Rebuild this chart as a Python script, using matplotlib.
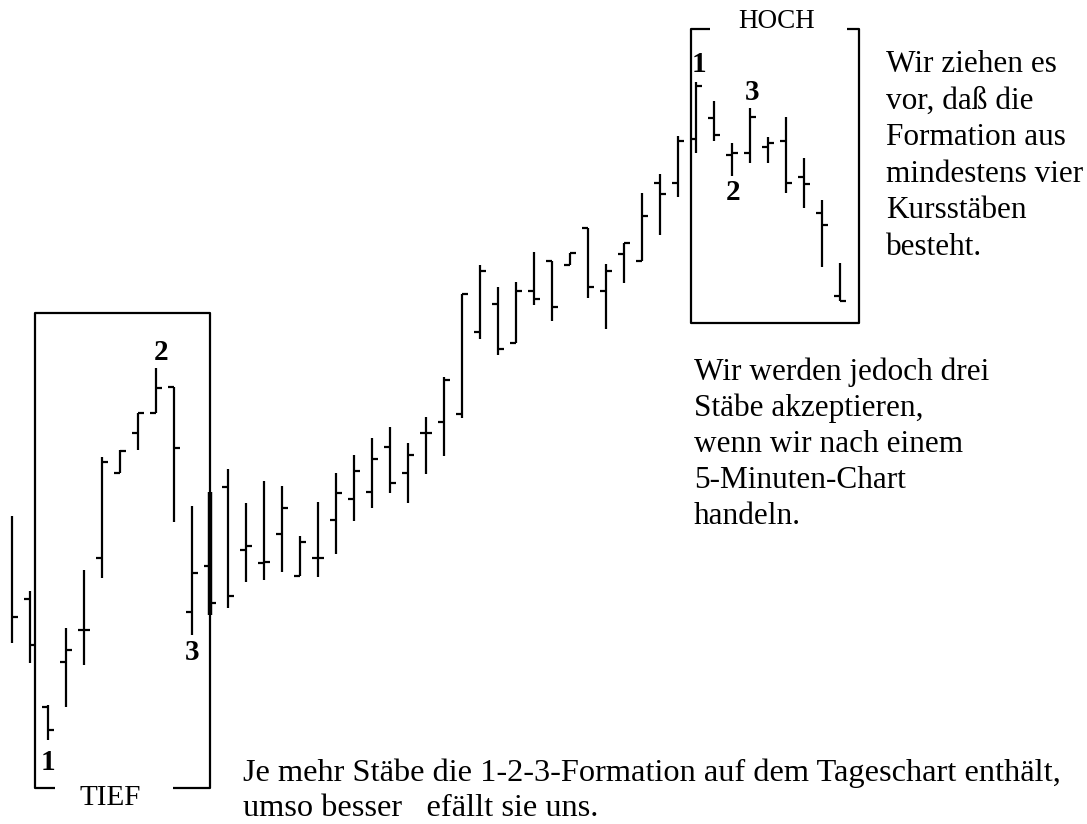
import numpy as np
import matplotlib
matplotlib.use("Agg")
import matplotlib.pyplot as plt
from matplotlib.lines import Line2D

# OHLC bars (price units, arbitrary), one bar per day
high  = [308, 233, 119, 196, 254, 367, 374, 411, 456, 437, 318, 332, 355, 321, 343, 338,
         288, 322, 351, 369, 386, 397, 381, 407, 447, 530, 559, 537, 542, 572, 563, 571,
         596, 560, 581, 631, 650, 688, 742, 723, 681, 716, 687, 707, 666, 624, 561]
low   = [181, 161,  84, 117, 159, 246, 351, 374, 411, 302, 189, 209, 216, 242, 244, 252,
         248, 247, 270, 303, 316, 331, 321, 350, 368, 406, 485, 469, 481, 519, 503, 559,
         526, 495, 541, 563, 589, 627, 671, 683, 648, 661, 661, 631, 616, 557, 523]
opens = [np.nan, 225, 117, 162, 194, 266, 351, 391, 411, 437, 212, 258, 337, 274, 261, 290,
         248, 266, 304, 325, 332, 377, 351, 391, 402, 410, 492, 520, 481, 533, 563, 559,
         596, 533, 570, 563, 641, 641, 685, 706, 669, 671, 677, 683, 647, 611, 528]
close = [207, 179,  94, 174, 194, 362, 373, 411, 436, 376, 251, 221, 228, 278, 262, 316,
         282, 266, 331, 353, 365, 341, 369, 391, 444, 530, 553, 475, 533, 525, 517, 571,
         537, 553, 581, 608, 630, 683, 738, 689, 671, 707, 681, 641, 640, 599, 523]

right_text = ["Wir ziehen es", "vor, daß die", "Formation aus",
              "mindestens vier", "Kursstäben", "besteht."]
mid_text = ["Wir werden jedoch drei", "Stäbe akzeptieren,", "wenn wir nach einem",
            "5-Minuten-Chart", "handeln."]
bottom_text = ["Je mehr Stäbe die 1-2-3-Formation auf dem Tageschart enthält,",
               "umso besser   efällt sie uns."]

W, H = 1087, 824
plt.rcParams['font.family'] = ['Liberation Serif', 'DejaVu Serif']

fig = plt.figure(figsize=(W / 100, H / 100), dpi=100)
fig.patch.set_facecolor('white')
ax = fig.add_axes([0, 0, 1, 1])
ax.set_xlim(-12 / 18, (W - 12) / 18)
ax.set_ylim(0, H)
ax.axis('off')

n = len(high)
idx = np.arange(n)
lw = np.full(n, 1.6)
lw[11] = 3.2
tick = 0.33

ax.vlines(idx, low, high, colors='black', linewidths=lw)
ax.hlines(opens, idx - tick, idx, colors='black', linewidths=1.6)
ax.hlines(close, idx, idx + tick, colors='black', linewidths=1.6)


def fx(x):
  return x / W


def fy(y):
  return 1 - y / H


def seg(xs, ys):
  fig.add_artist(Line2D([fx(x) for x in xs], [fy(y) for y in ys],
                        color='black', lw=1.6, solid_capstyle='butt'))


# TIEF box
seg([55, 35, 35, 210, 210, 173], [788, 788, 313, 313, 788, 788])
# HOCH box
seg([710, 691, 691, 859, 859, 847], [29, 29, 323, 323, 29, 29])

fig.text(fx(110), fy(798), "TIEF", fontsize=21, ha='center', va='center')
fig.text(fx(777), fy(21), "HOCH", fontsize=19.5, ha='center', va='center')

for s, (x, y) in zip("123", [(48, 762), (161, 352), (192, 653)]):
  fig.text(fx(x), fy(y), s, fontsize=21, fontweight='bold', ha='center', va='center')
for s, (x, y) in zip("123", [(699, 65), (733, 193), (752, 93)]):
  fig.text(fx(x), fy(y), s, fontsize=21, fontweight='bold', ha='center', va='center')

for i, line in enumerate(right_text):
  fig.text(fx(886), fy(72 + 36.6 * i), line, fontsize=22.5, va='baseline')
for i, line in enumerate(mid_text):
  fig.text(fx(694), fy(380 + 36 * i), line, fontsize=22.5, va='baseline')
for i, line in enumerate(bottom_text):
  fig.text(fx(243), fy(781 + 35 * i), line, fontsize=23.3, va='baseline')

fig.savefig("out.png", dpi=100, facecolor='white')
